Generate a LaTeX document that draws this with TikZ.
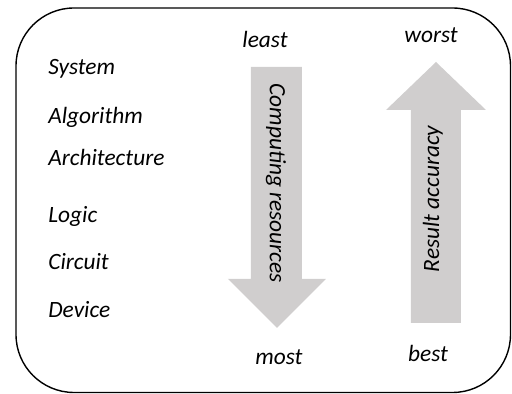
\documentclass[tikz,border=0pt]{standalone}
\usepackage{fontspec}
\setmainfont{Carlito}
\usetikzlibrary{positioning}
\definecolor{arrowgray}{RGB}{208,206,206}

\begin{document}
\begin{tikzpicture}[
  x=0.02cm, y=-0.02cm,
  every node/.style={font=\fontsize{13.3}{15}\selectfont\itshape, inner sep=0pt},
  level/.style = {anchor=base west},
  bound/.style = {anchor=base},
  fatarrow/.style = {fill=arrowgray, draw=none}
  ]
	\useasboundingbox (0,0) rectangle (512,394);
	\draw[line width=0.8pt, rounded corners=1.16cm] (16,8) rectangle (510.5,392.5);

	% abstraction levels
	\node[level] (sys)  at (48,75)  {System};
	\node[level] (alg)  at (48,124) {Algorithm};
	\node[level] (arch) at (48,166) {Architecture};
	\node[level] (logic) at (48,223) {Logic};
	\node[level] (circ) at (48,270) {Circuit};
	\node[level] (dev)  at (48,318) {Device};

	% computing resources (down)
	\coordinate (@c1) at (251,67);
	\coordinate (@c2) at (302,67);
	\coordinate (@c3) at (302,279);
	\coordinate (@c4) at (326,279);
	\coordinate (@c5) at (277,328);
	\coordinate (@c6) at (228,279);
	\coordinate (@c7) at (251,279);
	\fill[fatarrow] (@c1) -- (@c2) -- (@c3) -- (@c4) -- (@c5) -- (@c6) -- (@c7) -- cycle;
	\node[rotate=-90] (cres) at (276,183) {Computing resources};
	\node[bound] (least) at (265,48)  {least};
	\node[bound] (most)  at (279,365) {most};

	% result accuracy (up)
	\coordinate (@r1) at (411,323);
	\coordinate (@r2) at (411,110);
	\coordinate (@r3) at (386,110);
	\coordinate (@r4) at (436,62);
	\coordinate (@r5) at (486,110);
	\coordinate (@r6) at (461,110);
	\coordinate (@r7) at (461,323);
	\fill[fatarrow] (@r1) -- (@r2) -- (@r3) -- (@r4) -- (@r5) -- (@r6) -- (@r7) -- cycle;
	\node[rotate=90] (racc) at (433,199) {Result accuracy};
	\node[bound] (worst) at (431,43)  {worst};
	\node[bound] (best)  at (428,362) {best};

\end{tikzpicture}
\end{document}
